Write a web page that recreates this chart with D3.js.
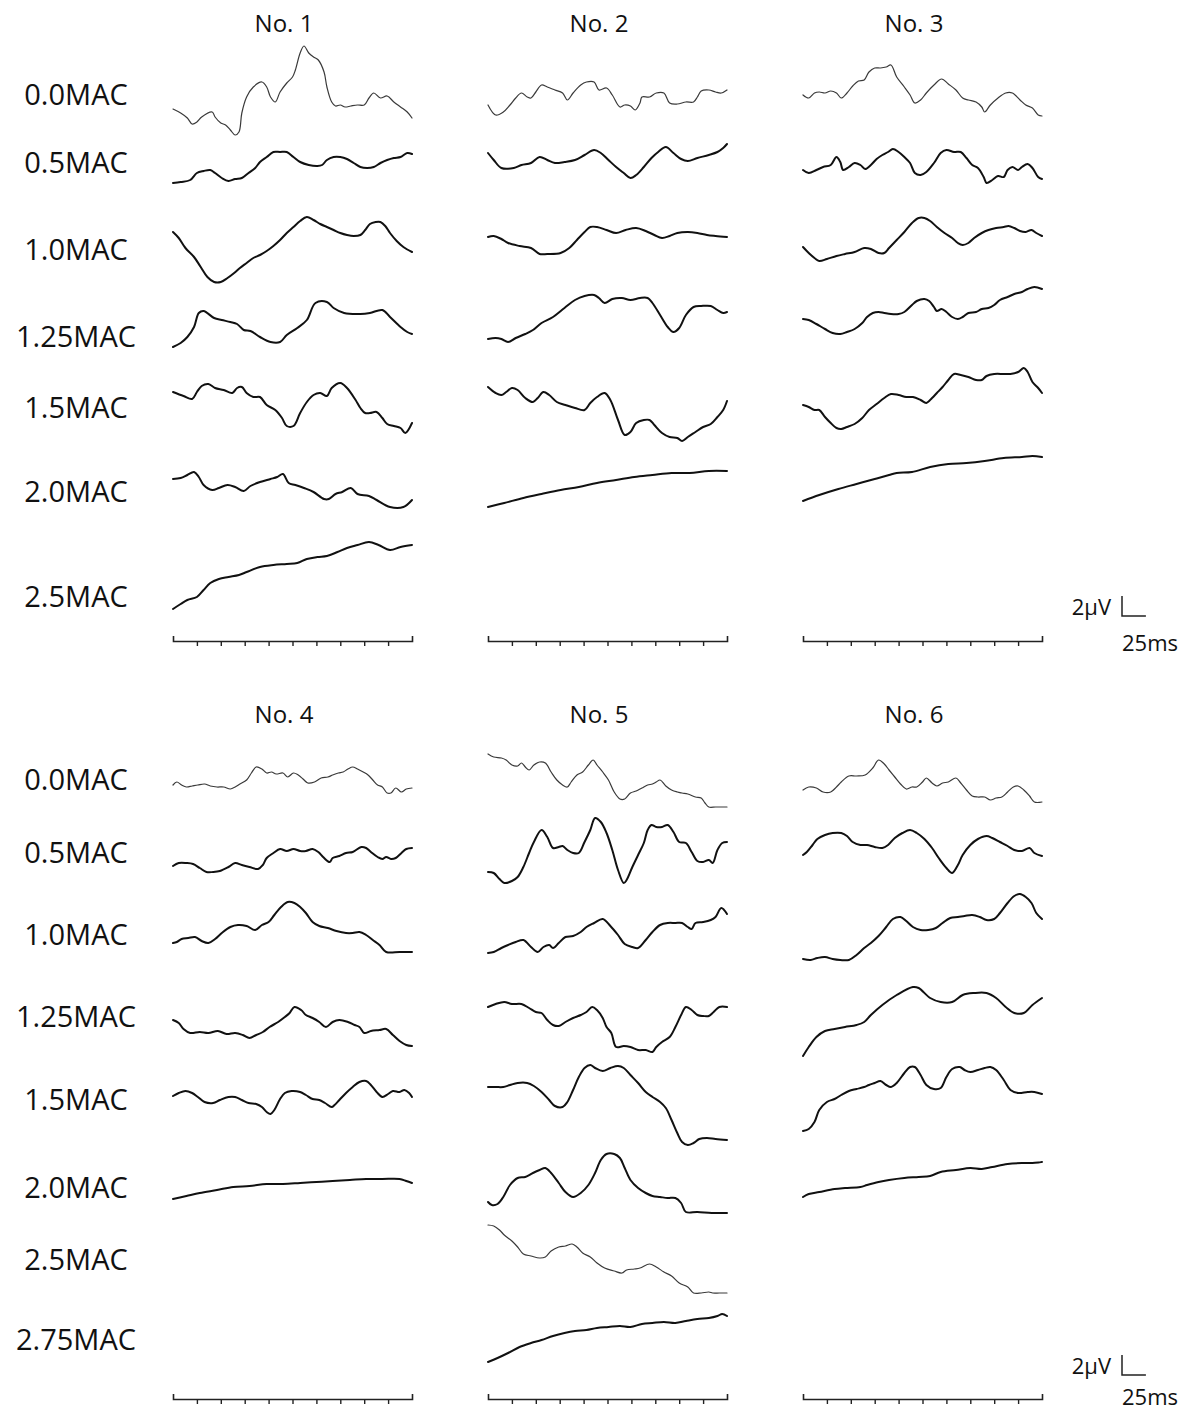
<!DOCTYPE html>
<html>
<head>
<meta charset="utf-8">
<script src="https://cdn.jsdelivr.net/npm/d3@7"></script>
<style>
  body { margin: 0; background: #fff; }
  svg { display: block; }
  text { font-family: "Open Sans", "DejaVu Sans", sans-serif; fill: #111; }
</style>
</head>
<body>
<svg id="chart" width="1196" height="1412"></svg>
<script>
// row labels (MAC levels) for the two groups of recordings
var rowsTop = ["0.0MAC", "0.5MAC", "1.0MAC", "1.25MAC", "1.5MAC", "2.0MAC", "2.5MAC"];
var rowsBottom = ["0.0MAC", "0.5MAC", "1.0MAC", "1.25MAC", "1.5MAC", "2.0MAC", "2.5MAC", "2.75MAC"];
var titlesTop = ["No. 1", "No. 2", "No. 3"];
var titlesBottom = ["No. 4", "No. 5", "No. 6"];

// each trace: [MAC level, [[time ms, amplitude µV], ...]]
var no1 = [
  ["0.0MAC", [[0,-1.4],[8,-1.8],[15,-2.3],[20,-2.9],[25,-2.7],[30,-2.2],[41,-1.7],[44,-2.2],[50,-2.8],[55,-3.0],[60,-3.5],[65,-4.0],[69,-3.7],[72,-1.8],[77,-0.2],[84,0.8],[93,1.3],[98,0.8],[102,-0.2],[107,-0.7],[112,0.3],[119,1.2],[125,1.8],[128,2.5],[133,4.2],[137,4.9],[142,4.2],[147,3.8],[152,3.5],[158,2.3],[161,0.8],[166,-0.7],[170,-1.1],[175,-1.0],[180,-1.2],[186,-1.1],[193,-1.0],[200,-1.0],[205,-0.3],[210,0.2],[217,-0.3],[224,-0.1],[231,-0.7],[238,-1.2],[245,-1.7],[250,-2.3]]],
  ["0.5MAC", [[0,-2.0],[8,-1.9],[18,-1.7],[25,-1.0],[32,-0.8],[39,-0.7],[44,-1.0],[51,-1.5],[58,-1.8],[65,-1.6],[72,-1.5],[79,-1.0],[86,-0.5],[91,0.1],[98,0.6],[105,1.1],[112,1.1],[119,1.1],[126,0.6],[133,0.1],[142,-0.2],[151,-0.3],[156,-0.2],[161,0.3],[168,0.6],[175,0.6],[182,0.4],[189,0.0],[196,-0.4],[203,-0.5],[210,-0.4],[217,0.0],[224,0.3],[231,0.5],[238,0.6],[245,1.0],[250,0.9]]],
  ["1.0MAC", [[0,1.8],[6,1.2],[13,0.2],[22,-0.7],[29,-1.7],[36,-2.7],[43,-3.2],[50,-3.2],[57,-2.8],[64,-2.3],[70,-1.8],[77,-1.3],[84,-0.8],[91,-0.5],[98,-0.1],[105,0.4],[112,1.0],[119,1.7],[126,2.3],[133,2.9],[140,3.3],[147,3.0],[154,2.6],[161,2.3],[168,2.0],[175,1.7],[182,1.5],[189,1.4],[196,1.5],[201,2.0],[206,2.6],[212,2.8],[217,2.8],[222,2.4],[227,1.7],[234,0.9],[241,0.3],[250,-0.2]]],
  ["1.25MAC", [[0,-1.0],[8,-0.6],[15,0.0],[22,1.0],[27,2.4],[32,2.6],[43,1.9],[51,1.7],[60,1.5],[67,1.3],[74,0.7],[81,0.6],[91,0.0],[102,-0.5],[112,-0.5],[119,0.2],[130,0.9],[140,1.7],[149,3.4],[161,3.5],[168,2.9],[179,2.4],[196,2.3],[206,2.4],[219,2.7],[227,2.0],[238,1.0],[245,0.5],[250,0.3]]],
  ["1.5MAC", [[0,1.6],[11,1.2],[20,0.9],[25,1.6],[30,2.2],[37,2.4],[44,2.0],[53,1.8],[62,1.5],[67,2.0],[72,2.1],[77,1.5],[84,1.1],[91,1.1],[98,0.3],[107,-0.2],[114,-1.0],[119,-1.8],[126,-1.8],[133,-0.5],[140,0.6],[147,1.3],[154,1.5],[161,1.2],[166,2.0],[175,2.5],[182,2.0],[191,0.8],[196,0.0],[201,-0.5],[206,-0.5],[213,-0.4],[219,-1.0],[224,-1.6],[231,-1.8],[238,-2.0],[243,-2.5],[250,-1.5]]],
  ["2.0MAC", [[0,1.3],[8,1.4],[15,1.7],[22,2.0],[27,1.5],[32,0.7],[41,0.2],[48,0.4],[57,0.7],[65,0.5],[74,0.1],[81,0.6],[91,1.0],[102,1.3],[109,1.5],[115,1.8],[121,0.9],[128,0.7],[137,0.4],[147,0.0],[158,-0.7],[163,-0.7],[170,-0.2],[177,0.0],[186,0.4],[193,-0.2],[205,-0.4],[213,-0.8],[227,-1.5],[241,-1.5],[250,-0.8]]],
  ["2.5MAC", [[0,-1.2],[8,-0.7],[15,-0.3],[25,0.0],[32,0.7],[39,1.4],[48,1.8],[58,2.0],[69,2.2],[77,2.5],[91,3.0],[105,3.2],[119,3.3],[130,3.4],[140,3.8],[151,4.0],[161,4.1],[172,4.5],[182,4.9],[193,5.2],[205,5.5],[215,5.2],[227,4.7],[238,5.0],[250,5.2]]]
];

var no2 = [
  ["0.0MAC", [[0,-1.0],[8,-2.0],[16,-1.7],[23,-1.0],[29,-0.3],[35,0.2],[41,-0.2],[45,-0.3],[50,0.3],[56,1.0],[62,0.8],[70,0.5],[78,0.2],[83,-0.5],[89,0.2],[97,1.0],[103,1.3],[111,1.3],[116,0.5],[124,0.7],[130,0.0],[138,-1.2],[143,-1.0],[149,-1.1],[154,-1.5],[159,-0.8],[161,-0.2],[169,-0.2],[176,0.2],[184,0.2],[190,-0.8],[198,-0.9],[207,-0.7],[215,-0.7],[219,-0.2],[223,0.4],[231,0.5],[238,0.3],[244,0.2],[250,0.5]]],
  ["0.5MAC", [[0,1.0],[6,0.3],[14,-0.5],[27,-0.5],[35,-0.2],[45,0.0],[54,0.6],[62,0.3],[70,0.0],[80,0.1],[91,0.3],[101,0.8],[111,1.3],[118,1.0],[126,0.3],[134,-0.4],[142,-1.0],[149,-1.5],[155,-1.2],[163,-0.4],[171,0.5],[178,1.1],[186,1.6],[194,1.0],[202,0.4],[209,0.2],[219,0.5],[231,0.8],[240,1.1],[246,1.5],[250,1.9]]],
  ["1.0MAC", [[0,1.3],[6,1.4],[14,1.1],[21,0.7],[33,0.4],[45,0.2],[54,-0.4],[62,-0.4],[76,-0.3],[85,0.2],[93,1.0],[101,1.8],[107,2.3],[114,2.3],[124,2.0],[134,1.7],[144,2.0],[155,2.2],[165,1.9],[174,1.5],[182,1.2],[190,1.4],[198,1.7],[209,1.8],[219,1.7],[229,1.5],[238,1.4],[250,1.3]]],
  ["1.25MAC", [[0,-0.2],[8,-0.1],[14,-0.2],[21,-0.5],[29,-0.1],[39,0.3],[47,0.7],[56,1.4],[68,2.0],[80,2.9],[91,3.7],[101,4.1],[111,4.2],[116,3.9],[122,3.4],[130,3.8],[140,3.9],[149,3.7],[159,3.9],[167,3.9],[172,3.4],[180,2.2],[188,1.0],[194,0.5],[200,0.9],[207,2.2],[215,3.0],[223,3.1],[233,3.1],[240,2.7],[246,2.4],[250,2.5]]],
  ["1.5MAC", [[0,2.1],[8,1.5],[14,1.3],[19,1.6],[25,2.0],[31,1.8],[39,1.0],[47,0.6],[52,1.0],[58,1.6],[64,1.3],[72,0.6],[81,0.3],[91,0.0],[101,-0.2],[107,0.5],[114,1.1],[122,1.5],[128,0.8],[136,-1.2],[143,-2.7],[149,-2.4],[155,-1.5],[163,-1.2],[169,-1.2],[174,-1.7],[182,-2.5],[190,-2.9],[198,-3.0],[203,-3.3],[209,-2.9],[217,-2.4],[225,-1.9],[233,-1.6],[240,-0.9],[246,-0.2],[250,0.7]]],
  ["2.0MAC", [[0,-1.5],[17,-1.1],[37,-0.6],[56,-0.2],[76,0.2],[95,0.5],[114,0.9],[134,1.2],[153,1.5],[172,1.7],[192,1.9],[211,1.9],[231,2.1],[250,2.1]]]
];

var no3 = [
  ["0.0MAC", [[0,0.0],[6,-0.3],[12,0.2],[17,0.3],[23,0.2],[29,0.4],[35,0.2],[40,-0.3],[46,0.2],[52,0.9],[58,1.4],[64,1.5],[69,2.3],[75,2.7],[81,2.7],[87,2.8],[92,3.0],[98,1.8],[106,0.8],[112,0.0],[117,-0.8],[123,-0.5],[129,0.2],[137,1.0],[145,1.6],[152,1.1],[160,0.5],[167,-0.3],[173,-0.5],[181,-0.7],[187,-1.2],[190,-1.7],[196,-1.0],[204,-0.3],[212,0.2],[219,0.2],[227,-0.5],[233,-1.0],[240,-1.3],[246,-2.0],[250,-2.1]]],
  ["0.5MAC", [[0,-0.7],[6,-1.0],[14,-0.7],[21,-0.4],[29,-0.2],[35,0.6],[39,0.1],[42,-0.7],[48,-0.4],[54,0.0],[60,-0.2],[65,-0.6],[71,-0.2],[77,0.4],[83,0.8],[89,1.1],[94,1.4],[100,1.1],[106,0.6],[112,0.0],[117,-1.0],[123,-1.2],[129,-0.9],[137,0.0],[144,1.0],[150,1.3],[158,1.1],[165,1.1],[171,0.5],[177,-0.2],[183,-0.5],[189,-1.4],[192,-2.0],[198,-1.7],[204,-1.3],[210,-1.4],[214,-0.7],[219,-0.4],[225,-0.7],[229,-0.4],[235,-0.1],[240,-0.5],[246,-1.4],[250,-1.6]]],
  ["1.0MAC", [[0,0.3],[6,-0.3],[12,-0.8],[17,-1.1],[25,-0.9],[35,-0.6],[44,-0.4],[54,-0.2],[64,0.2],[71,0.1],[79,-0.3],[85,-0.3],[90,0.2],[98,1.0],[106,1.8],[114,2.7],[121,3.2],[127,3.2],[133,2.9],[140,2.3],[148,1.7],[156,1.2],[162,0.7],[167,0.5],[173,0.7],[179,1.2],[187,1.7],[194,2.0],[202,2.2],[210,2.3],[215,2.4],[221,2.2],[227,1.9],[233,1.8],[239,2.0],[244,1.7],[250,1.4]]],
  ["1.25MAC", [[0,1.8],[6,1.7],[14,1.3],[23,0.8],[31,0.4],[39,0.3],[46,0.5],[54,0.8],[62,1.4],[67,2.0],[73,2.4],[79,2.5],[85,2.4],[92,2.3],[100,2.3],[106,2.5],[114,3.2],[119,3.6],[127,3.8],[132,3.6],[137,3.0],[140,2.6],[145,2.8],[150,2.5],[156,2.0],[162,1.8],[167,2.0],[173,2.4],[181,2.5],[187,2.8],[194,2.9],[200,3.2],[206,3.7],[214,4.0],[221,4.3],[229,4.5],[235,4.8],[242,5.0],[250,4.8]]],
  ["1.5MAC", [[0,0.3],[6,0.1],[12,-0.2],[17,-0.2],[23,-0.9],[29,-1.5],[35,-2.0],[40,-2.1],[46,-1.9],[54,-1.6],[62,-1.0],[69,-0.2],[77,0.4],[85,1.0],[92,1.4],[100,1.3],[108,1.1],[115,1.1],[123,0.8],[129,0.5],[135,1.0],[140,1.5],[146,2.1],[152,2.8],[158,3.4],[165,3.3],[173,3.1],[181,2.8],[187,2.8],[192,3.2],[200,3.4],[210,3.4],[217,3.4],[225,3.6],[231,4.0],[235,3.6],[240,2.6],[246,2.0],[250,1.5]]],
  ["2.0MAC", [[0,-0.9],[17,-0.3],[37,0.3],[56,0.8],[75,1.3],[90,1.7],[98,1.9],[114,2.0],[133,2.5],[152,2.8],[171,2.9],[190,3.1],[210,3.4],[229,3.5],[240,3.6],[250,3.5]]]
];

var no4 = [
  ["0.0MAC", [[0,-0.5],[4,-0.2],[9,-0.5],[14,-0.7],[20,-0.6],[26,-0.5],[33,-0.4],[39,-0.6],[46,-0.7],[53,-0.7],[60,-0.9],[65,-0.7],[70,-0.4],[77,0.0],[82,0.7],[87,1.3],[93,1.1],[98,0.7],[103,0.8],[108,0.6],[115,0.7],[120,0.3],[126,0.7],[131,0.5],[136,0.1],[141,-0.3],[148,-0.2],[155,0.2],[162,0.3],[167,0.5],[173,0.7],[178,0.8],[183,1.1],[188,1.3],[193,1.1],[199,0.8],[204,0.5],[209,0.0],[214,-0.5],[219,-0.7],[224,-1.3],[228,-1.3],[233,-0.8],[239,-1.2],[244,-0.9],[250,-0.8]]],
  ["0.5MAC", [[0,-1.3],[6,-1.0],[14,-1.0],[21,-1.1],[28,-1.5],[35,-1.9],[42,-1.9],[49,-1.8],[58,-1.4],[65,-1.0],[72,-1.2],[80,-1.4],[89,-1.6],[94,-1.2],[98,-0.5],[105,0.0],[112,0.4],[119,0.2],[126,0.4],[133,0.2],[139,0.2],[146,0.4],[152,0.1],[157,-0.4],[164,-0.9],[167,-0.5],[174,-0.3],[181,0.0],[188,0.1],[197,0.6],[202,0.5],[207,0.1],[214,-0.4],[219,-0.6],[223,-0.4],[228,-0.6],[233,-0.5],[239,0.0],[244,0.4],[250,0.5]]],
  ["1.0MAC", [[0,-0.8],[4,-0.7],[9,-0.4],[16,-0.3],[23,-0.2],[30,-0.6],[37,-0.8],[44,-0.4],[51,0.2],[60,0.8],[68,1.0],[77,0.9],[86,0.5],[93,1.0],[100,1.3],[106,2.0],[113,2.8],[120,3.3],[127,3.2],[133,2.8],[139,2.2],[146,1.3],[153,0.9],[162,0.7],[171,0.4],[181,0.2],[188,0.2],[195,0.3],[202,0.0],[209,-0.5],[216,-1.0],[223,-1.7],[237,-1.7],[250,-1.7]]],
  ["1.25MAC", [[0,-0.3],[6,-0.6],[11,-1.2],[18,-1.6],[28,-1.5],[37,-1.6],[47,-1.4],[56,-1.7],[65,-1.6],[73,-1.8],[80,-2.1],[87,-1.8],[94,-1.5],[101,-1.0],[110,-0.5],[117,0.0],[122,0.4],[127,1.0],[134,0.7],[139,0.2],[146,-0.1],[153,-0.5],[160,-1.0],[167,-0.5],[174,-0.3],[183,-0.5],[190,-0.8],[195,-1.0],[200,-1.6],[207,-1.4],[216,-1.3],[223,-1.2],[230,-1.8],[237,-2.4],[244,-2.8],[250,-2.9]]],
  ["1.5MAC", [[0,0.4],[6,0.7],[13,0.9],[20,0.7],[26,0.3],[33,-0.2],[42,-0.3],[49,0.0],[58,0.3],[65,0.3],[72,0.0],[79,-0.3],[87,-0.4],[93,-0.7],[98,-1.2],[102,-1.4],[106,-1.0],[112,0.1],[117,0.7],[124,0.9],[133,0.8],[139,0.5],[146,0.1],[153,0.0],[159,-0.3],[166,-0.7],[169,-0.5],[174,0.0],[181,0.7],[188,1.3],[195,1.8],[202,1.9],[207,1.5],[213,0.8],[219,0.3],[225,0.6],[230,0.9],[237,0.8],[242,1.0],[247,0.7],[250,0.3]]],
  ["2.0MAC", [[0,-1.1],[14,-0.8],[28,-0.5],[46,-0.2],[63,0.1],[80,0.2],[98,0.4],[115,0.4],[133,0.5],[150,0.6],[167,0.7],[185,0.8],[202,0.9],[219,0.9],[237,0.9],[244,0.7],[250,0.5]]]
];

var no5 = [
  ["0.0MAC", [[0,2.6],[6,2.3],[14,2.2],[19,2.0],[25,1.5],[31,1.4],[35,1.7],[39,1.3],[43,1.0],[48,1.5],[54,1.8],[60,1.7],[66,0.8],[72,0.0],[78,-0.5],[83,-0.7],[87,-0.2],[93,0.5],[99,0.8],[105,1.5],[110,2.0],[114,1.5],[120,0.8],[126,0.0],[132,-1.2],[138,-1.9],[143,-1.9],[149,-1.3],[155,-1.1],[161,-0.8],[167,-0.5],[172,-0.4],[176,-0.2],[180,0.0],[186,-0.6],[192,-1.0],[198,-1.2],[203,-1.3],[209,-1.4],[217,-1.7],[223,-1.8],[227,-2.3],[231,-2.7],[238,-2.7],[245,-2.7],[250,-2.7]]],
  ["0.5MAC", [[0,-1.9],[6,-2.0],[12,-2.6],[17,-3.0],[25,-2.8],[31,-2.4],[37,-1.4],[43,0.0],[48,1.1],[56,2.3],[62,1.6],[68,0.5],[74,0.6],[78,0.7],[83,0.3],[89,0.0],[95,0.0],[101,1.1],[107,2.3],[112,3.5],[118,3.1],[124,2.0],[130,0.3],[136,-1.7],[142,-3.0],[145,-2.7],[151,-1.4],[157,-0.2],[163,1.0],[167,2.3],[171,2.8],[176,2.6],[182,2.6],[188,2.8],[194,2.1],[200,1.1],[207,1.0],[213,0.1],[219,-0.8],[225,-0.9],[231,-0.7],[235,-1.0],[240,0.3],[245,1.0],[250,1.1]]],
  ["1.0MAC", [[0,-1.8],[6,-1.7],[14,-1.3],[21,-1.0],[29,-0.7],[37,-0.5],[45,-1.2],[52,-1.7],[58,-1.2],[64,-1.0],[68,-1.3],[74,-0.8],[81,-0.2],[89,-0.1],[97,0.3],[103,0.8],[111,1.2],[120,1.6],[128,0.9],[136,0.0],[143,-0.9],[151,-1.2],[157,-1.3],[165,-0.5],[172,0.3],[180,1.0],[188,1.2],[196,1.2],[203,1.2],[209,0.8],[213,0.6],[217,1.2],[225,1.3],[233,1.5],[238,1.8],[244,2.7],[250,2.1]]],
  ["1.25MAC", [[0,1.0],[8,1.3],[17,1.5],[25,1.3],[35,1.3],[43,0.9],[50,0.5],[56,0.4],[62,-0.3],[68,-0.8],[74,-0.9],[81,-0.5],[89,-0.1],[97,0.2],[103,0.5],[109,1.0],[114,0.7],[120,-0.1],[124,-1.0],[129,-1.6],[134,-3.0],[142,-2.9],[149,-3.0],[157,-3.3],[165,-3.3],[172,-3.5],[176,-3.0],[182,-2.5],[190,-2.0],[196,-1.0],[202,0.2],[207,1.0],[213,0.7],[219,0.2],[225,0.1],[231,0.1],[236,0.5],[242,1.0],[250,1.0]]],
  ["1.5MAC", [[0,1.3],[8,1.3],[16,1.3],[23,1.5],[31,1.7],[41,1.7],[48,1.4],[56,0.8],[64,0.0],[70,-0.6],[78,-0.7],[83,-0.2],[89,1.0],[95,2.3],[101,3.2],[107,3.5],[112,3.2],[120,2.9],[128,3.2],[136,3.4],[142,3.2],[149,2.5],[157,1.7],[165,0.8],[172,0.3],[180,-0.2],[186,-0.8],[192,-2.0],[198,-3.3],[203,-4.2],[209,-4.5],[215,-4.3],[221,-3.9],[229,-3.8],[238,-3.9],[250,-4.0]]],
  ["2.0MAC", [[0,-1.4],[4,-1.7],[10,-1.6],[16,-0.9],[23,0.3],[31,1.0],[39,1.1],[47,1.5],[54,1.8],[60,2.0],[66,1.5],[74,0.5],[81,-0.4],[89,-0.9],[97,-0.5],[105,0.3],[112,1.5],[118,2.8],[124,3.4],[132,3.4],[138,3.0],[143,2.0],[149,0.8],[157,0.0],[165,-0.5],[172,-0.8],[180,-0.9],[188,-1.0],[196,-1.0],[202,-1.5],[207,-2.4],[219,-2.4],[234,-2.5],[250,-2.5]]],
  ["2.5MAC", [[0,3.5],[6,3.4],[12,3.0],[17,2.5],[25,1.9],[31,1.3],[37,0.6],[45,0.4],[54,0.2],[60,0.3],[66,0.9],[74,1.3],[81,1.4],[88,1.6],[93,1.3],[99,0.7],[107,0.3],[114,-0.3],[122,-0.8],[132,-1.1],[140,-1.3],[145,-1.0],[153,-0.9],[159,-0.8],[169,-0.4],[176,-0.7],[184,-1.2],[192,-1.6],[200,-2.3],[209,-2.7],[215,-3.3],[223,-3.3],[231,-3.2],[235,-3.3],[242,-3.3],[250,-3.3]]],
  ["2.75MAC", [[0,-2.2],[10,-1.8],[21,-1.3],[33,-0.7],[45,-0.3],[56,0.0],[68,0.4],[80,0.7],[91,0.9],[103,1.0],[114,1.2],[126,1.3],[138,1.4],[149,1.3],[161,1.6],[172,1.7],[184,1.8],[196,1.7],[207,1.9],[219,2.1],[231,2.2],[240,2.4],[245,2.6],[250,2.4]]]
];

var no6 = [
  ["0.0MAC", [[0,-1.0],[6,-0.7],[14,-0.8],[21,-1.2],[29,-1.2],[35,-0.7],[40,-0.2],[48,0.4],[56,0.4],[65,0.5],[73,1.2],[79,2.0],[85,1.6],[90,1.0],[96,0.3],[102,-0.4],[108,-0.9],[114,-0.7],[119,-0.7],[125,-0.2],[129,0.2],[135,-0.3],[140,-0.6],[146,-0.3],[152,-0.2],[160,0.2],[165,-0.3],[171,-1.0],[177,-1.6],[183,-1.7],[190,-1.7],[196,-2.0],[202,-1.8],[208,-1.7],[214,-1.2],[220,-0.7],[225,-0.6],[231,-1.0],[237,-1.6],[242,-2.2],[250,-2.2]]],
  ["0.5MAC", [[0,-0.2],[4,0.1],[10,0.8],[15,1.4],[23,1.8],[31,2.0],[40,2.0],[46,1.7],[52,1.1],[60,0.8],[67,0.8],[75,0.6],[83,0.5],[89,0.8],[96,1.5],[104,2.0],[112,2.3],[119,2.0],[127,1.4],[135,0.5],[142,-0.5],[150,-1.5],[156,-2.0],[162,-1.2],[167,-0.2],[175,0.8],[183,1.4],[192,1.7],[198,1.5],[206,1.1],[214,0.7],[221,0.3],[229,0.2],[237,0.5],[242,0.0],[250,-0.3]]],
  ["1.0MAC", [[0,-2.4],[8,-2.5],[15,-2.3],[23,-2.2],[31,-2.4],[39,-2.5],[48,-2.5],[56,-2.0],[64,-1.3],[71,-0.8],[79,-0.1],[87,0.8],[94,1.6],[102,1.8],[108,1.4],[115,0.8],[123,0.5],[131,0.5],[139,0.7],[146,1.2],[154,1.7],[162,1.8],[169,1.9],[177,2.0],[185,1.8],[192,1.5],[200,1.6],[206,2.2],[214,3.2],[221,3.9],[227,4.1],[233,3.8],[239,3.2],[244,2.2],[250,1.6]]],
  ["1.25MAC", [[0,-3.9],[6,-3.0],[14,-2.0],[23,-1.4],[33,-1.2],[44,-1.0],[56,-0.8],[64,-0.5],[71,0.2],[83,1.2],[98,2.2],[115,3.0],[121,2.9],[133,1.9],[144,1.5],[156,1.5],[167,2.2],[179,2.4],[192,2.4],[202,1.9],[212,1.0],[221,0.4],[231,0.4],[240,1.2],[250,1.9]]],
  ["1.5MAC", [[0,-3.1],[6,-2.9],[12,-2.2],[17,-1.0],[25,-0.2],[33,0.1],[40,0.5],[48,0.9],[56,1.1],[64,1.3],[69,1.5],[75,1.7],[81,1.9],[87,1.5],[92,1.3],[98,1.7],[106,2.7],[112,3.3],[117,3.3],[123,2.5],[129,1.5],[137,1.1],[144,1.2],[150,2.3],[156,3.1],[164,3.3],[169,3.0],[175,2.8],[183,3.0],[190,3.2],[196,3.3],[202,3.0],[210,2.0],[217,1.0],[225,0.7],[235,0.8],[242,0.8],[250,0.6]]],
  ["2.0MAC", [[0,-0.9],[6,-0.6],[17,-0.4],[33,-0.1],[44,0.0],[60,0.1],[67,0.3],[79,0.6],[90,0.8],[106,1.0],[121,1.1],[133,1.2],[144,1.6],[160,1.8],[175,2.0],[187,1.9],[198,2.1],[214,2.4],[229,2.5],[240,2.5],[250,2.6]]]
];

// thin pen for these traces, as in the original figure
var thinTraces = ["No. 5|2.5MAC"];

var svg = d3.select('#chart');
var panelLeft = [173, 488, 803];
var panelWidth = 239;
var pxPerMicroVolt = 10;

var groups = [
  { titles: titlesTop, panels: [no1, no2, no3], rows: rowsTop,
    rowY: [95, 163, 250, 337, 408, 492, 597], titleY: 32, axisY: 641, barY: 616, msDy: 35 },
  { titles: titlesBottom, panels: [no4, no5, no6], rows: rowsBottom,
    rowY: [780, 853, 935, 1017, 1100, 1188, 1260, 1340], titleY: 723, axisY: 1399, barY: 1375, msDy: 30 }
];

groups.forEach(function(g) {
  // row labels
  svg.selectAll(null)
    .data(g.rows)
    .enter().append('text')
    .attr('x', 76)
    .attr('y', function(d, i) { return g.rowY[i]; })
    .attr('dy', '0.36em')
    .attr('text-anchor', 'middle')
    .attr('font-size', '29px')
    .text(function(d) { return d; });

  g.panels.forEach(function(traces, p) {
    var left = panelLeft[p];
    var x = d3.scaleLinear().domain([0, 250]).range([left, left + panelWidth]);

    svg.append('text')
      .attr('x', left + 111)
      .attr('y', g.titleY)
      .attr('text-anchor', 'middle')
      .attr('font-size', '24px')
      .text(g.titles[p]);

    traces.forEach(function(tr) {
      var rowIdx = g.rows.indexOf(tr[0]);
      var base = g.rowY[rowIdx];
      var y = d3.scaleLinear().domain([0, 1]).range([base, base - pxPerMicroVolt]);
      var line = d3.line()
        .x(function(d) { return x(d[0]); })
        .y(function(d) { return y(d[1]); })
        .curve(d3.curveCatmullRom.alpha(0.5));
      var thin = tr[0] === "0.0MAC" || thinTraces.indexOf(g.titles[p] + "|" + tr[0]) >= 0;
      svg.append('path')
        .datum(tr[1])
        .attr('d', line)
        .attr('fill', 'none')
        .attr('stroke', thin ? '#3a3a3a' : '#111')
        .attr('stroke-width', thin ? 1.2 : 2)
        .attr('stroke-linejoin', 'round')
        .attr('stroke-linecap', 'round');
    });

    // time axis: 25 ms ticks, end caps pointing up
    var ax = svg.append('g')
      .attr('transform', 'translate(0,' + g.axisY + ')')
      .call(d3.axisBottom(x)
        .tickValues(d3.range(25, 250, 25))
        .tickSizeInner(5)
        .tickSizeOuter(-5)
        .tickFormat(''));
    ax.select('.domain').attr('stroke', '#222').attr('stroke-width', 1.6);
    ax.selectAll('.tick line').attr('stroke', '#222').attr('stroke-width', 1.4);
  });

  // calibration bar: 2 µV / 25 ms
  var xs = d3.scaleLinear().domain([0, 250]).range([0, panelWidth]);
  var bx = 1122, by = g.barY;
  svg.append('path')
    .attr('d', 'M' + bx + ',' + (by - 2 * pxPerMicroVolt) + 'V' + by + 'H' + (bx + xs(25)))
    .attr('fill', 'none')
    .attr('stroke', '#222')
    .attr('stroke-width', 1.5);
  svg.append('text')
    .attr('x', bx - 11)
    .attr('y', by - 1)
    .attr('text-anchor', 'end')
    .attr('font-size', '22px')
    .text('2\u03bcV');
  svg.append('text')
    .attr('x', bx)
    .attr('y', by + g.msDy)
    .attr('font-size', '22px')
    .text('25ms');
});
</script>
</body>
</html>
